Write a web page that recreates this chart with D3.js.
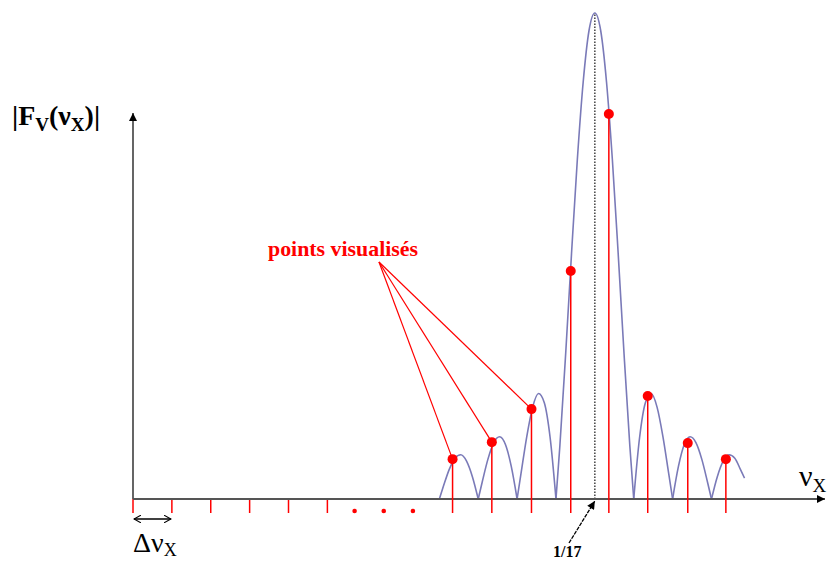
<!DOCTYPE html>
<html>
<head>
<meta charset="utf-8">
<script src="https://cdn.jsdelivr.net/npm/d3@7"></script>
<style>
  html, body { margin: 0; padding: 0; background: #fff; }
  svg { display: block; }
  svg text { font-family: "Liberation Serif", "DejaVu Serif", serif; }
</style>
</head>
<body>
<div id="chart"></div>
<script>
// Frequency axis in units of the sampling step (delta nu).
const tickUnits = [0, 1, 2, 3, 4, 5];
const ellipsisUnits = [5.7, 6.45, 7.2];
const peakUnit = 11.88;            // the "1/17" frequency

// |F| curve, one array per lobe: [nu, amplitude]
const lobes = [
    [[7.88, 0], [7.98, 0.025], [8.13, 0.06], [8.28, 0.084], [8.43, 0.091], [8.58, 0.078], [8.73, 0.046], [8.88, 0]],
    [[8.88, 0], [8.98, 0.034], [9.13, 0.082], [9.28, 0.116], [9.43, 0.128], [9.58, 0.112], [9.73, 0.067], [9.88, 0]],
    [[9.88, 0], [9.98, 0.052], [10.13, 0.129], [10.28, 0.189], [10.43, 0.217], [10.58, 0.198], [10.73, 0.126], [10.88, 0]],
    [[10.88, 0], [10.98, 0.109], [11.13, 0.30], [11.28, 0.505], [11.43, 0.699], [11.58, 0.858], [11.73, 0.964], [11.88, 1],
     [12.03, 0.964], [12.18, 0.858], [12.33, 0.699], [12.48, 0.505], [12.63, 0.30], [12.78, 0.109], [12.88, 0]],
    [[12.88, 0], [13.03, 0.126], [13.18, 0.198], [13.33, 0.217], [13.48, 0.189], [13.63, 0.129], [13.78, 0.052], [13.88, 0]],
    [[13.88, 0], [14.03, 0.067], [14.18, 0.112], [14.33, 0.128], [14.48, 0.116], [14.63, 0.082], [14.78, 0.034], [14.88, 0]],
    [[14.88, 0], [15.03, 0.046], [15.18, 0.078], [15.33, 0.091], [15.48, 0.084], [15.63, 0.06], [15.73, 0.043]]
];

// Displayed samples (red stems).
const stemUnits = [8.22, 9.23, 10.25, 11.26, 12.24, 13.24, 14.27, 15.25];
const stemValues = [0.082, 0.117, 0.185, 0.469, 0.792, 0.212, 0.115, 0.082];
// The first three side-lobe samples are pointed at by the label.
const labelledStems = [0, 1, 2];

const width = 830;
const height = 561;

const x = d3.scaleLinear().domain([0, 17.8]).range([133, 825]);
const y = d3.scaleLinear().domain([0, 1]).range([499, 13]);

const svg = d3.select("#chart")
    .append("svg")
    .attr("width", width)
    .attr("height", height)
    .attr("viewBox", [0, 0, width, height]);

const defs = svg.append("defs");
defs.append("marker")
    .attr("id", "head")
    .attr("viewBox", "0 0 10 10")
    .attr("refX", 10).attr("refY", 5)
    .attr("markerWidth", 10).attr("markerHeight", 8)
    .attr("markerUnits", "userSpaceOnUse")
    .attr("orient", "auto")
    .append("path")
    .attr("d", "M0,0L10,5L0,10z")
    .attr("fill", "#000");
defs.append("marker")
    .attr("id", "open")
    .attr("viewBox", "0 0 10 10")
    .attr("refX", 9).attr("refY", 5)
    .attr("markerWidth", 8).attr("markerHeight", 8)
    .attr("markerUnits", "userSpaceOnUse")
    .attr("orient", "auto-start-reverse")
    .append("path")
    .attr("d", "M0,0L9,5L0,10")
    .attr("fill", "none")
    .attr("stroke", "#000")
    .attr("stroke-width", 1.4);

// Red ticks below the axis, and the ellipsis dots.
svg.append("g")
    .selectAll("line")
    .data(tickUnits)
    .join("line")
    .attr("x1", d => x(d)).attr("x2", d => x(d))
    .attr("y1", y(0)).attr("y2", y(0) + 14)
    .attr("stroke", "#ff0000")
    .attr("stroke-width", 1.5);

svg.append("g")
    .selectAll("circle")
    .data(ellipsisUnits)
    .join("circle")
    .attr("cx", d => x(d))
    .attr("cy", y(0) + 12)
    .attr("r", 2.3)
    .attr("fill", "#ff0000");

// Dotted line at the peak frequency.
svg.append("line")
    .attr("x1", x(peakUnit)).attr("x2", x(peakUnit))
    .attr("y1", y(0)).attr("y2", y(1) + 1)
    .attr("stroke", "#333")
    .attr("stroke-width", 1.4)
    .attr("stroke-dasharray", "1.5,1.5");

// The |F| curve, lobe by lobe so the zeros stay sharp.
const line = d3.line()
    .x(d => x(d[0]))
    .y(d => y(d[1]))
    .curve(d3.curveMonotoneX);

svg.append("g")
    .selectAll("path")
    .data(lobes)
    .join("path")
    .attr("d", line)
    .attr("fill", "none")
    .attr("stroke", "#7a7ab8")
    .attr("stroke-width", 1.6);

// Axes.
svg.append("line")
    .attr("x1", x(0)).attr("y1", y(0))
    .attr("x2", x(17.8)).attr("y2", y(0))
    .attr("stroke", "#555")
    .attr("stroke-width", 1.8)
    .attr("marker-end", "url(#head)");
svg.append("line")
    .attr("x1", x(0)).attr("y1", y(0))
    .attr("x2", x(0)).attr("y2", 113)
    .attr("stroke", "#555")
    .attr("stroke-width", 1.8)
    .attr("marker-end", "url(#head)");

// Leader lines from the label to the first side-lobe samples.
svg.append("g")
    .selectAll("line")
    .data(labelledStems)
    .join("line")
    .attr("x1", 379).attr("y1", 262)
    .attr("x2", i => x(stemUnits[i]))
    .attr("y2", i => y(stemValues[i]))
    .attr("stroke", "#ff0000")
    .attr("stroke-width", 1.2);

// Stems and points.
const stems = svg.append("g");
stems.selectAll("line")
    .data(stemUnits)
    .join("line")
    .attr("x1", d => x(d)).attr("x2", d => x(d))
    .attr("y1", (d, i) => y(stemValues[i]))
    .attr("y2", y(0) + 14)
    .attr("stroke", "#ff0000")
    .attr("stroke-width", 1.5);
stems.selectAll("circle")
    .data(stemUnits)
    .join("circle")
    .attr("cx", d => x(d))
    .attr("cy", (d, i) => y(stemValues[i]))
    .attr("r", 5)
    .attr("fill", "#ff0000");

svg.append("text")
    .attr("x", 268).attr("y", 256)
    .attr("fill", "#ff0000")
    .attr("font-weight", "bold")
    .attr("font-size", 21)
    .attr("textLength", 150)
    .attr("lengthAdjust", "spacingAndGlyphs")
    .text("points visualisés");

// Delta nu marker.
svg.append("line")
    .attr("x1", x(0) + 1).attr("x2", x(1) - 1)
    .attr("y1", 519).attr("y2", 519)
    .attr("stroke", "#000")
    .attr("stroke-width", 1.4)
    .attr("marker-start", "url(#open)")
    .attr("marker-end", "url(#open)");

const dnu = svg.append("text")
    .attr("x", 133).attr("y", 552)
    .attr("font-size", 28);
dnu.append("tspan").text("Δν");
dnu.append("tspan").attr("font-size", 18).attr("dy", 4).text("X");

// Arrow to 1/17.
svg.append("line")
    .attr("x1", 569).attr("y1", 543)
    .attr("x2", x(peakUnit)).attr("y2", y(0) + 2)
    .attr("stroke", "#000")
    .attr("stroke-width", 1.3)
    .attr("stroke-dasharray", "4,1")
    .attr("marker-end", "url(#head)");
svg.append("text")
    .attr("x", 553).attr("y", 557)
    .attr("font-weight", "bold")
    .attr("font-size", 16)
    .text("1/17");

// Axis labels.
const fl = svg.append("text")
    .attr("x", 12).attr("y", 125)
    .attr("font-weight", "bold")
    .attr("font-size", 28);
fl.append("tspan").text("|F");
fl.append("tspan").attr("font-size", 19).attr("dy", 6).text("V");
fl.append("tspan").attr("dy", -6).text("(ν");
fl.append("tspan").attr("font-size", 19).attr("dy", 6).text("X");
fl.append("tspan").attr("dy", -6).text(")|");

const nl = svg.append("text")
    .attr("x", 799).attr("y", 486)
    .attr("font-size", 30);
nl.append("tspan").text("ν");
nl.append("tspan").attr("font-size", 19).attr("dy", 6).text("X");
</script>
</body>
</html>
